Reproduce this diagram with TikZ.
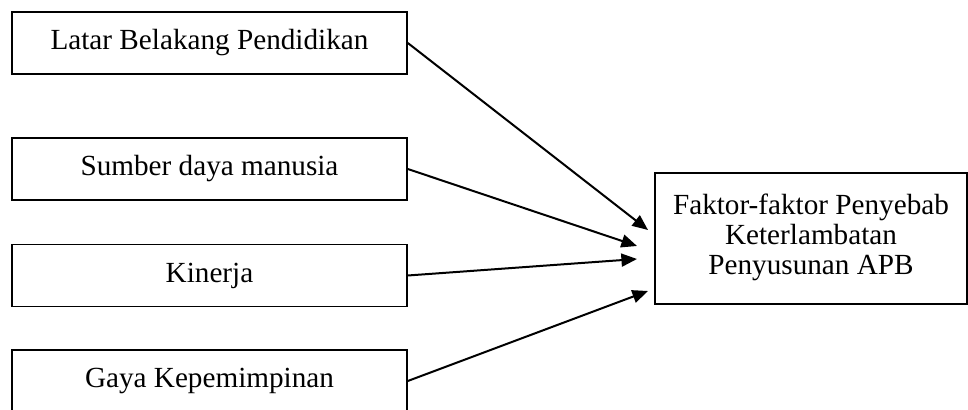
\documentclass[tikz,border=0pt]{standalone}
\usepackage{fontspec}
\setmainfont{Liberation Serif}
\usetikzlibrary{arrows.meta}

\begin{document}
\begin{tikzpicture}[x=0.5pt,y=-0.5pt,
  factorbox/.style={draw,line width=0.8pt,minimum width=197.5pt,minimum height=31pt,
    inner sep=0pt,font=\fontsize{14.6}{14.8}\selectfont},
  resultbox/.style={draw,line width=0.8pt,minimum width=156pt,minimum height=65.5pt,
    inner sep=0pt,font=\fontsize{14.6}{14.8}\selectfont},
  arrowline/.style={-{Triangle[length=7.8pt,width=6.5pt]},line width=1pt}]

% fix the picture size (the lowest box runs off the bottom)
\clip (0,0) rectangle (968,410);

% the four factors on the left
\node[factorbox] (latar) at (209.5,43) {Latar Belakang Pendidikan};
\node[factorbox] (sdm) at (209.5,169) {Sumber daya manusia};
\node[factorbox] (kinerja) at (209.5,275.5) {Kinerja};
\node[factorbox] (gaya) at (209.5,381) {Gaya Kepemimpinan};

% result box on the right, text sits a little low in the box
\node[resultbox] (faktor) at (811,238.5) {\raisebox{-2.5pt}{\begin{tabular}{@{}c@{}}
  Faktor-faktor Penyebab\\Keterlambatan\\Penyusunan APB\end{tabular}}};

% arrow tips stop just short of the result box
\coordinate (tipa) at (648,230);
\coordinate (tipb) at (637,246);
\coordinate (tipc) at (637,259);
\coordinate (tipd) at (648,291);

% arrows from each factor
\draw[arrowline] (latar.east) -- (tipa);
\draw[arrowline] (sdm.east) -- (tipb);
\draw[arrowline] (kinerja.east) -- (tipc);
\draw[arrowline] (gaya.east) -- (tipd);

\end{tikzpicture}
\end{document}
